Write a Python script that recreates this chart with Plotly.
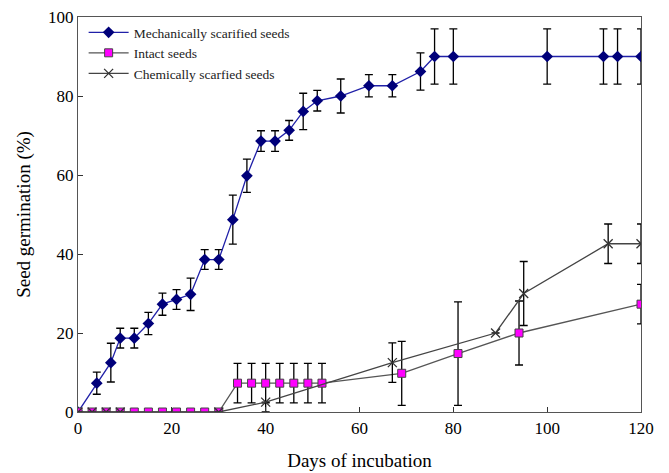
import plotly.graph_objects as go

# Mechanically scarified seeds
mech_x = [0, 4, 7, 9, 12, 15, 18, 21, 24, 27, 30, 33, 36, 39, 42, 45, 48, 51, 56, 62, 67, 73, 76, 80, 100, 112, 115, 120]
mech_y = [0, 7.3, 12.5, 18.7, 18.7, 22.4, 27.3, 28.5, 29.8, 38.6, 38.6, 48.7, 59.8, 68.6, 68.6, 71.3, 76.1, 78.8, 80.0, 82.6, 82.6, 86.2, 90, 90, 90, 90, 90, 90]
mech_err = [0, 2.8, 4.9, 2.5, 2.5, 2.8, 2.8, 2.5, 4.1, 2.5, 2.5, 6.2, 4.2, 2.6, 2.6, 2.5, 4.6, 2.6, 4.3, 2.8, 2.8, 4.7, 7.0, 7.0, 7.0, 7.0, 7.0, 7.0]

# Intact seeds
intact_x = [0, 3, 6, 9, 12, 15, 18, 21, 24, 27, 30, 34, 37, 40, 43, 46, 49, 52, 69, 81, 94, 120]
intact_y = [0, 0, 0, 0, 0, 0, 0, 0, 0, 0, 0, 7.3, 7.3, 7.3, 7.3, 7.3, 7.3, 7.3, 9.8, 14.8, 20.0, 27.3]
intact_err = [0, 0, 0, 0, 0, 0, 0, 0, 0, 0, 0, 5, 5, 5, 5, 5, 5, 5, 8.1, 13.1, 8.1, 5.0]

# Chemically scarified seeds
chem_x = [0, 3, 6, 9, 30, 40, 67, 89, 95, 113, 120]
chem_y = [0, 0, 0, 0, 0, 2.5, 12.5, 20, 30, 42.6, 42.6]
chem_err_plus = [0, 0, 0, 0, 0, 0, 5, 0, 8.1, 5, 5]
chem_err_minus = [0, 0, 0, 0, 0, 2.5, 5, 0, 8.1, 5, 5]

x_ticks = [0, 20, 40, 60, 80, 100, 120]
y_ticks = [0, 20, 40, 60, 80, 100]

FONT = "Liberation Serif, Times New Roman, serif"
err_style = dict(type="data", color="black", thickness=1.3, width=4)

fig = go.Figure()
fig.add_trace(go.Scatter(
    x=mech_x, y=mech_y, mode="lines+markers", name="Mechanically scarified seeds",
    line=dict(color="#2020a8", width=1.3),
    marker=dict(symbol="diamond", size=9, color="#00007a"),
    error_y=dict(array=mech_err, **err_style),
))
fig.add_trace(go.Scatter(
    x=intact_x, y=intact_y, mode="lines+markers", name="Intact seeds",
    line=dict(color="#555555", width=1.3),
    marker=dict(symbol="square", size=8, color="#ff00ff", line=dict(color="#444444", width=1)),
    error_y=dict(array=intact_err, **err_style),
))
fig.add_trace(go.Scatter(
    x=chem_x, y=chem_y, mode="lines+markers", name="Chemically scarfied seeds",
    line=dict(color="#444444", width=1.3),
    marker=dict(symbol="x-thin-open", size=9, color="#333333", line=dict(color="#333333", width=1.3)),
    error_y=dict(array=chem_err_plus, arrayminus=chem_err_minus, symmetric=False, **err_style),
))

fig.update_layout(
    width=669, height=473,
    margin=dict(l=70, r=36, t=9, b=69, autoexpand=False),
    paper_bgcolor="white", plot_bgcolor="white",
    font=dict(family=FONT, color="black"),
    showlegend=True,
    legend=dict(x=0.01, y=1.0, xanchor="left", yanchor="top",
                font=dict(family=FONT, size=13.5, color="#222222"),
                bgcolor="rgba(0,0,0,0)", tracegroupgap=0, itemsizing="trace", itemwidth=40),
)
fig.update_xaxes(
    range=[0, 120], tickvals=x_ticks, ticks="inside", ticklen=5, tickcolor="#333333",
    showline=True, linecolor="#555555", linewidth=1.2, mirror=True, showgrid=False, zeroline=False,
    tickfont=dict(family=FONT, size=17), ticklabeloverflow="allow", automargin=False,
    title=dict(text="Days of incubation", font=dict(family=FONT, size=19), standoff=17),
)
fig.update_yaxes(
    range=[0, 100], tickvals=y_ticks, ticks="inside", ticklen=5, tickcolor="#333333",
    showline=True, linecolor="#555555", linewidth=1.2, mirror=True, showgrid=False, zeroline=False,
    tickfont=dict(family=FONT, size=17), ticklabeloverflow="allow", automargin=False,
    title=dict(text="Seed germination (%)", font=dict(family=FONT, size=19), standoff=12),
)

fig.write_html("out.html")
